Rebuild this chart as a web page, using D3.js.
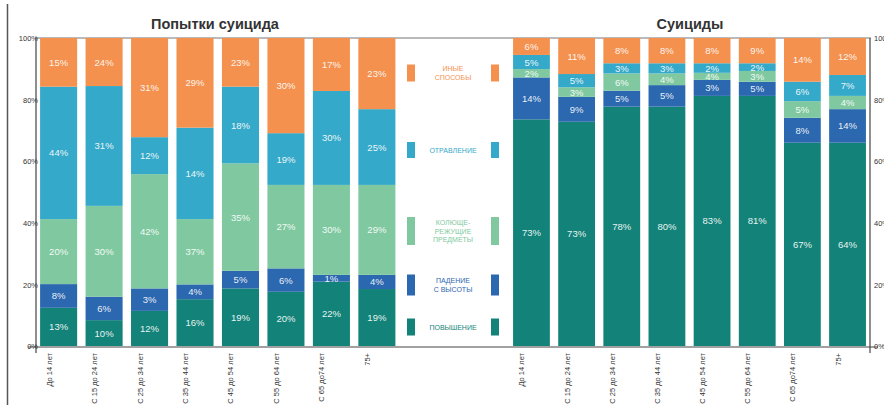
<!DOCTYPE html>
<html>
<head>
<meta charset="utf-8">
<script src="https://cdn.jsdelivr.net/npm/d3@7"></script>
<style>
  body { margin: 0; background: #fff; }
  svg { display: block; font-family: "Liberation Sans", Arial, sans-serif; }
</style>
</head>
<body>
<div id="chart"></div>
<script>
// ── Data ───────────────────────────────────────────────────────────────────
const ageGroups = ["До 14 лет", "С 15 до 24 лет", "С 25 до 34 лет", "С 35 до 44 лет",
                   "С 45 до 54 лет", "С 55 до 64 лет", "С 65 до74 лет", "75+"];

const methods = ["hanging", "fall", "cutting", "poison", "other"];
const methodLabels = {
  other:   ["ИНЫЕ", "СПОСОБЫ"],
  poison:  ["ОТРАВЛЕНИЕ"],
  cutting: ["КОЛЮЩЕ-", "РЕЖУЩИЕ", "ПРЕДМЕТЫ"],
  fall:    ["ПАДЕНИЕ", "С ВЫСОТЫ"],
  hanging: ["ПОВЫШЕНИЕ"]
};

// Printed labels (%), bottom → top: hanging, fall, cutting, poison, other
const attemptsHangingLabel = [13, 10, 12, 16, 19, 20, 22, 19];
const attemptsFallLabel    = [8, 6, 3, 4, 5, 6, 1, 4];
const attemptsCuttingLabel = [20, 30, 42, 37, 35, 27, 30, 29];
const attemptsPoisonLabel  = [44, 31, 12, 14, 18, 19, 30, 25];
const attemptsOtherLabel   = [15, 24, 31, 29, 23, 30, 17, 23];

const suicidesHangingLabel = [73, 73, 78, 80, 83, 81, 67, 64];
const suicidesFallLabel    = [14, 9, 5, 5, 3, 5, 8, 14];
const suicidesCuttingLabel = [2, 3, 6, 4, 4, 3, 5, 4];
const suicidesPoisonLabel  = [5, 5, 3, 3, 2, 2, 6, 7];
const suicidesOtherLabel   = [6, 11, 8, 8, 8, 9, 14, 12];

// Segment heights as drawn in the picture (% of bar)
const attemptsHanging = [12.4, 8.4, 11.4, 15.2, 18.7, 17.6, 20.9, 18.5];
const attemptsFall    = [7.7, 7.6, 7.3, 4.8, 5.7, 7.6, 2.2, 4.6];
const attemptsCutting = [21.1, 29.5, 37.1, 21.2, 34.9, 27.1, 29.2, 29.2];
const attemptsPoison  = [43.0, 38.9, 12.0, 29.7, 24.9, 16.8, 30.5, 24.6];
const attemptsOther   = [15.8, 15.6, 32.2, 29.1, 15.8, 30.9, 17.2, 23.1];

const suicidesHanging = [73.6, 72.8, 77.7, 77.7, 81.2, 81.2, 66.0, 66.0];
const suicidesFall    = [13.6, 8.1, 5.2, 7.0, 5.2, 4.6, 8.1, 10.9];
const suicidesCutting = [2.7, 3.1, 5.6, 3.8, 2.3, 3.5, 5.4, 4.3];
const suicidesPoison  = [4.6, 4.3, 3.3, 3.3, 3.1, 2.5, 6.3, 6.8];
const suicidesOther   = [5.5, 11.7, 8.2, 8.2, 8.2, 8.2, 14.2, 12.0];

const yTicks = [0, 0.2, 0.4, 0.6, 0.8, 1];

const colors = {
  hanging: "#138379",
  fall:    "#2c68b0",
  cutting: "#80c9a0",
  poison:  "#35a9c9",
  other:   "#f4914f"
};

function buildRows(vals, labels) {
  return ageGroups.map((age, i) => {
    const row = { age, labels: {} };
    methods.forEach((m, k) => { row[m] = vals[k][i]; row.labels[m] = labels[k][i]; });
    return row;
  });
}
const attemptsRows = buildRows(
  [attemptsHanging, attemptsFall, attemptsCutting, attemptsPoison, attemptsOther],
  [attemptsHangingLabel, attemptsFallLabel, attemptsCuttingLabel, attemptsPoisonLabel, attemptsOtherLabel]);
const suicidesRows = buildRows(
  [suicidesHanging, suicidesFall, suicidesCutting, suicidesPoison, suicidesOther],
  [suicidesHangingLabel, suicidesFallLabel, suicidesCuttingLabel, suicidesPoisonLabel, suicidesOtherLabel]);

// ── Layout ─────────────────────────────────────────────────────────────────
const width = 884, height = 405;
const plotTop = 38, plotBottom = 346;

const svg = d3.select("#chart").append("svg").attr("width", width).attr("height", height);

const y = d3.scaleLinear().domain([0, 1]).range([plotBottom, plotTop]);
const stack = d3.stack().keys(methods).offset(d3.stackOffsetExpand);

// frame line on the left
svg.append("line").attr("x1", 7.5).attr("x2", 7.5).attr("y1", 4).attr("y2", height)
  .attr("stroke", "#555").attr("stroke-width", 1.5);

// shared top / bottom lines
svg.append("line").attr("x1", 36).attr("x2", 871).attr("y1", plotTop).attr("y2", plotTop)
  .attr("stroke", "#777").attr("stroke-width", 1.2);
svg.append("line").attr("x1", 28).attr("x2", 878).attr("y1", plotBottom + 1).attr("y2", plotBottom + 1)
  .attr("stroke", "#444").attr("stroke-width", 1.2);

function drawPanel(rows, x0, x1, axisX, axisSide, title, titleX) {
  const x = d3.scaleBand().domain(ageGroups).range([x0, x1]).paddingInner(0.185).paddingOuter(0.09);
  const series = stack(rows);
  const g = svg.append("g");

  const layers = g.selectAll("g.layer").data(series).join("g")
    .attr("class", "layer")
    .attr("fill", d => colors[d.key]);

  layers.selectAll("rect").data(d => d).join("rect")
    .attr("x", d => x(d.data.age))
    .attr("width", x.bandwidth())
    .attr("y", d => y(d[1]))
    .attr("height", d => y(d[0]) - y(d[1]));

  layers.selectAll("text").data(d => d.map(v => ({ key: d.key, v }))).join("text")
    .attr("x", d => x(d.v.data.age) + x.bandwidth() / 2)
    .attr("y", d => y((d.v[0] + d.v[1]) / 2) + 3.5)
    .attr("text-anchor", "middle")
    .attr("font-size", "9.5px")
    .attr("fill", "#fff")
    .attr("fill-opacity", 0.92)
    .text(d => d.v.data.labels[d.key] + "%");

  // y axis
  const axis = (axisSide === "left" ? d3.axisLeft(y) : d3.axisRight(y))
    .tickValues(yTicks).tickSize(0).tickPadding(-2)
    .tickFormat(d => Math.round(d * 100) + "%");
  const ax = g.append("g").attr("transform", `translate(${axisX},0)`).call(axis);
  ax.select(".domain").remove();
  ax.selectAll("text").attr("font-size", "7.5px").attr("fill", "#333")
    .attr("dy", "0.35em");
  if (axisSide === "right") ax.selectAll("text").attr("x", 4);
  g.append("line").attr("x1", axisX).attr("x2", axisX).attr("y1", plotTop).attr("y2", plotBottom + 7)
    .attr("stroke", "#444").attr("stroke-width", 1.2);

  // category labels, rotated
  g.selectAll("text.cat").data(ageGroups).join("text")
    .attr("class", "cat")
    .attr("transform", d => `translate(${x(d) + x.bandwidth() / 2 - 7},${plotBottom + 7}) rotate(-90)`)
    .attr("text-anchor", "end")
    .attr("font-size", "7.5px")
    .attr("fill", "#333")
    .text(d => d);

  svg.append("text").attr("x", titleX).attr("y", 29)
    .attr("text-anchor", "middle")
    .attr("font-size", "14.5px").attr("font-weight", "bold").attr("fill", "#333")
    .text(title);
}

drawPanel(attemptsRows, 36, 399.5, 36, "left", "Попытки суицида", 215);
drawPanel(suicidesRows, 509, 870, 870, "right", "Суициды", 690);

// ── Legend ────────────────────────────────────────────────────────────────
const legendY = { other: 73, poison: 150, cutting: 231, fall: 285, hanging: 327 };
const legendH = { other: 17, poison: 16, cutting: 28, fall: 21, hanging: 17 };

const legend = svg.append("g").selectAll("g").data(methods).join("g")
  .attr("transform", d => `translate(0,${legendY[d]})`);

legend.append("rect").attr("x", 407).attr("width", 8)
  .attr("y", d => -legendH[d] / 2).attr("height", d => legendH[d])
  .attr("fill", d => colors[d]);
legend.append("rect").attr("x", 491).attr("width", 8)
  .attr("y", d => -legendH[d] / 2).attr("height", d => legendH[d])
  .attr("fill", d => colors[d]);

legend.each(function (d) {
  const lines = methodLabels[d];
  const t = d3.select(this).append("text")
    .attr("text-anchor", "middle")
    .attr("font-size", "7px")
    .attr("fill", colors[d]);
  lines.forEach((line, i) => {
    t.append("tspan").attr("x", 453)
      .attr("y", (i - (lines.length - 1) / 2) * 8.5 + 2.5)
      .text(line);
  });
});
</script>
</body>
</html>
